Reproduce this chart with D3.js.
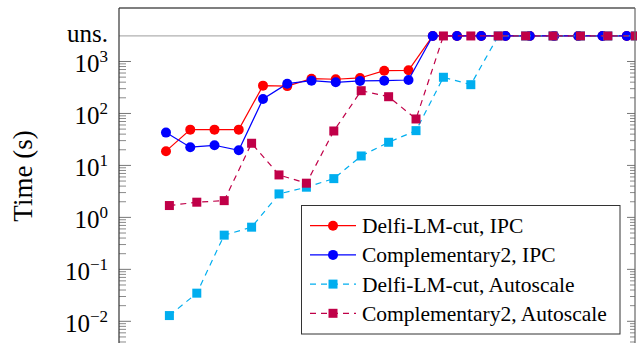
<!DOCTYPE html>
<html><head><meta charset="utf-8">
<script src="https://cdn.jsdelivr.net/npm/d3@7"></script>
<style>body{margin:0;background:#fff}svg{display:block}</style>
</head><body>
<script>
// ---- data ----
const unsValue = 3100; // plotted position of "uns." (unsolved)
const ipcX = [1,2,3,4,5,6,7,8,9,10,11,12,13,14,15,16,17,18,19,20];
const delfiIPC = [18.8,48.8,48.8,48.8,343,336,467,455,482,666,677,"uns","uns","uns","uns","uns","uns","uns","uns","uns"];
const comp2IPC = [42.8,22.4,24.4,19.6,190,374,428,398,422,428,440,"uns","uns","uns","uns","uns","uns","uns","uns","uns"];
const autoX = [1.14,2.27,3.40,4.53,5.66,6.79,7.92,9.05,10.18,11.31,12.44,13.57,14.70,15.83,16.96,18.09,19.22,20.35];
const delfiAuto = [0.0129,0.0348,0.455,0.648,2.83,3.81,5.57,15.2,27.9,46.7,497,358,"uns","uns","uns","uns","uns","uns"];
const comp2Auto = [1.69,1.96,2.10,26.7,6.56,4.55,46,274,210,78.3,"uns","uns","uns","uns","uns","uns","uns","uns"];
const yTickExps = [-2,-1,0,1,2,3];
const seriesNames = ["Delfi-LM-cut, IPC","Complementary2, IPC","Delfi-LM-cut, Autoscale","Complementary2, Autoscale"];

// ---- layout ----
const W = 637, H = 343;
const L = 119, R = 635, T = 8, B = 345;
const svg = d3.select("body").append("svg").attr("width", W).attr("height", H);
const x = d3.scaleLinear().domain([-0.938, 20.34]).range([L, R]);
const y = d3.scaleLog().domain([0.0035, 10700]).range([B, T]);
const val = v => v === "uns" ? unsValue : v;

const serif = "'Liberation Serif','Times New Roman',serif";

// uns. grid line
svg.append("line").attr("x1", L).attr("x2", R).attr("y1", y(unsValue)).attr("y2", y(unsValue))
  .attr("stroke", "#b0b0b0").attr("stroke-width", 1.2);

// ticks
const minor = [];
for (let k = -3; k <= 2; k++) for (let m = 2; m <= 9; m++) {
  const v = m * Math.pow(10, k);
  if (y(v) < B && y(v) > T) minor.push(v);
}
const major = yTickExps.map(e => Math.pow(10, e));
const tg = svg.append("g").attr("stroke", "#8a8a8a").attr("stroke-width", 1);
minor.forEach(v => {
  tg.append("line").attr("x1", L).attr("x2", L + 7).attr("y1", y(v)).attr("y2", y(v));
  tg.append("line").attr("x1", R - 5).attr("x2", R).attr("y1", y(v)).attr("y2", y(v));
});
major.forEach(v => {
  tg.append("line").attr("x1", L).attr("x2", L + 12).attr("y1", y(v)).attr("y2", y(v)).attr("stroke", "#777");
  tg.append("line").attr("x1", R - 8).attr("x2", R).attr("y1", y(v)).attr("y2", y(v)).attr("stroke", "#777");
});

// tick labels
const lg = svg.append("g").attr("font-family", serif).attr("fill", "#000").attr("text-anchor", "end");
yTickExps.forEach(e => {
  const t = lg.append("text").attr("x", 108).attr("y", y(Math.pow(10, e)) + 11).attr("font-size", 25);
  t.append("tspan").text("10");
  t.append("tspan").attr("dy", -10).attr("font-size", 17).text(e < 0 ? "\u2212" + (-e) : String(e));
});
lg.append("text").attr("x", 108).attr("y", y(unsValue) + 6).attr("font-size", 25).text("uns.");

// axis title
svg.append("text").attr("transform", `translate(32,176) rotate(-90)`)
  .attr("text-anchor", "middle").attr("font-family", serif).attr("font-size", 27).text("Time (s)");

// series
const series = [
  {name: seriesNames[0], xs: ipcX, ys: delfiIPC, color: "#ff0000", dash: null, marker: "circle"},
  {name: seriesNames[1], xs: ipcX, ys: comp2IPC, color: "#0000ff", dash: null, marker: "circle"},
  {name: seriesNames[2], xs: autoX, ys: delfiAuto, color: "#00aeef", dash: "6,5", marker: "square"},
  {name: seriesNames[3], xs: autoX, ys: comp2Auto, color: "#c00048", dash: "6,5", marker: "square"}
];
svg.append("defs").append("clipPath").attr("id", "clip").append("rect")
  .attr("x", L).attr("y", T).attr("width", R - L).attr("height", B - T);
const line = d3.line().x(d => x(d[0])).y(d => y(val(d[1])));
function drawMarker(g, cx, cy, s) {
  if (s.marker === "circle") g.append("circle").attr("cx", cx).attr("cy", cy).attr("r", 5).attr("fill", s.color);
  else g.append("rect").attr("x", cx - 4.5).attr("y", cy - 4.5).attr("width", 9).attr("height", 9).attr("fill", s.color);
}
series.forEach(s => {
  const pts = s.xs.map((xv, i) => [xv, s.ys[i]]);
  const g = svg.append("g");
  g.append("path").attr("d", line(pts)).attr("fill", "none").attr("stroke", s.color)
    .attr("stroke-width", 1.2).attr("stroke-dasharray", s.dash).attr("clip-path", "url(#clip)");
  pts.forEach(p => drawMarker(g, x(p[0]), y(val(p[1])), s));
});

// frame
svg.append("line").attr("x1", L).attr("x2", R).attr("y1", T).attr("y2", T).attr("stroke", "#000").attr("stroke-width", 1.2);
svg.append("line").attr("x1", L).attr("x2", L).attr("y1", T).attr("y2", B).attr("stroke", "#333").attr("stroke-width", 1.2);
svg.append("line").attr("x1", R).attr("x2", R).attr("y1", T).attr("y2", B).attr("stroke", "#666").attr("stroke-width", 1.2);

// legend
const leg = svg.append("g");
leg.append("rect").attr("x", 301.5).attr("y", 205.5).attr("width", 318.5).attr("height", 128.5)
  .attr("fill", "#fff").attr("stroke", "#333").attr("stroke-width", 1);
series.forEach((s, i) => {
  const ly = 225.7 + i * 29.2;
  leg.append("line").attr("x1", 310).attr("x2", 356).attr("y1", ly).attr("y2", ly)
    .attr("stroke", s.color).attr("stroke-width", 1.2).attr("stroke-dasharray", s.dash);
  drawMarker(leg, 333, ly, s);
  leg.append("text").attr("x", 362).attr("y", ly + 7.5).attr("font-family", serif)
    .attr("font-size", 21.5).text(s.name);
});
</script>
</body></html>
